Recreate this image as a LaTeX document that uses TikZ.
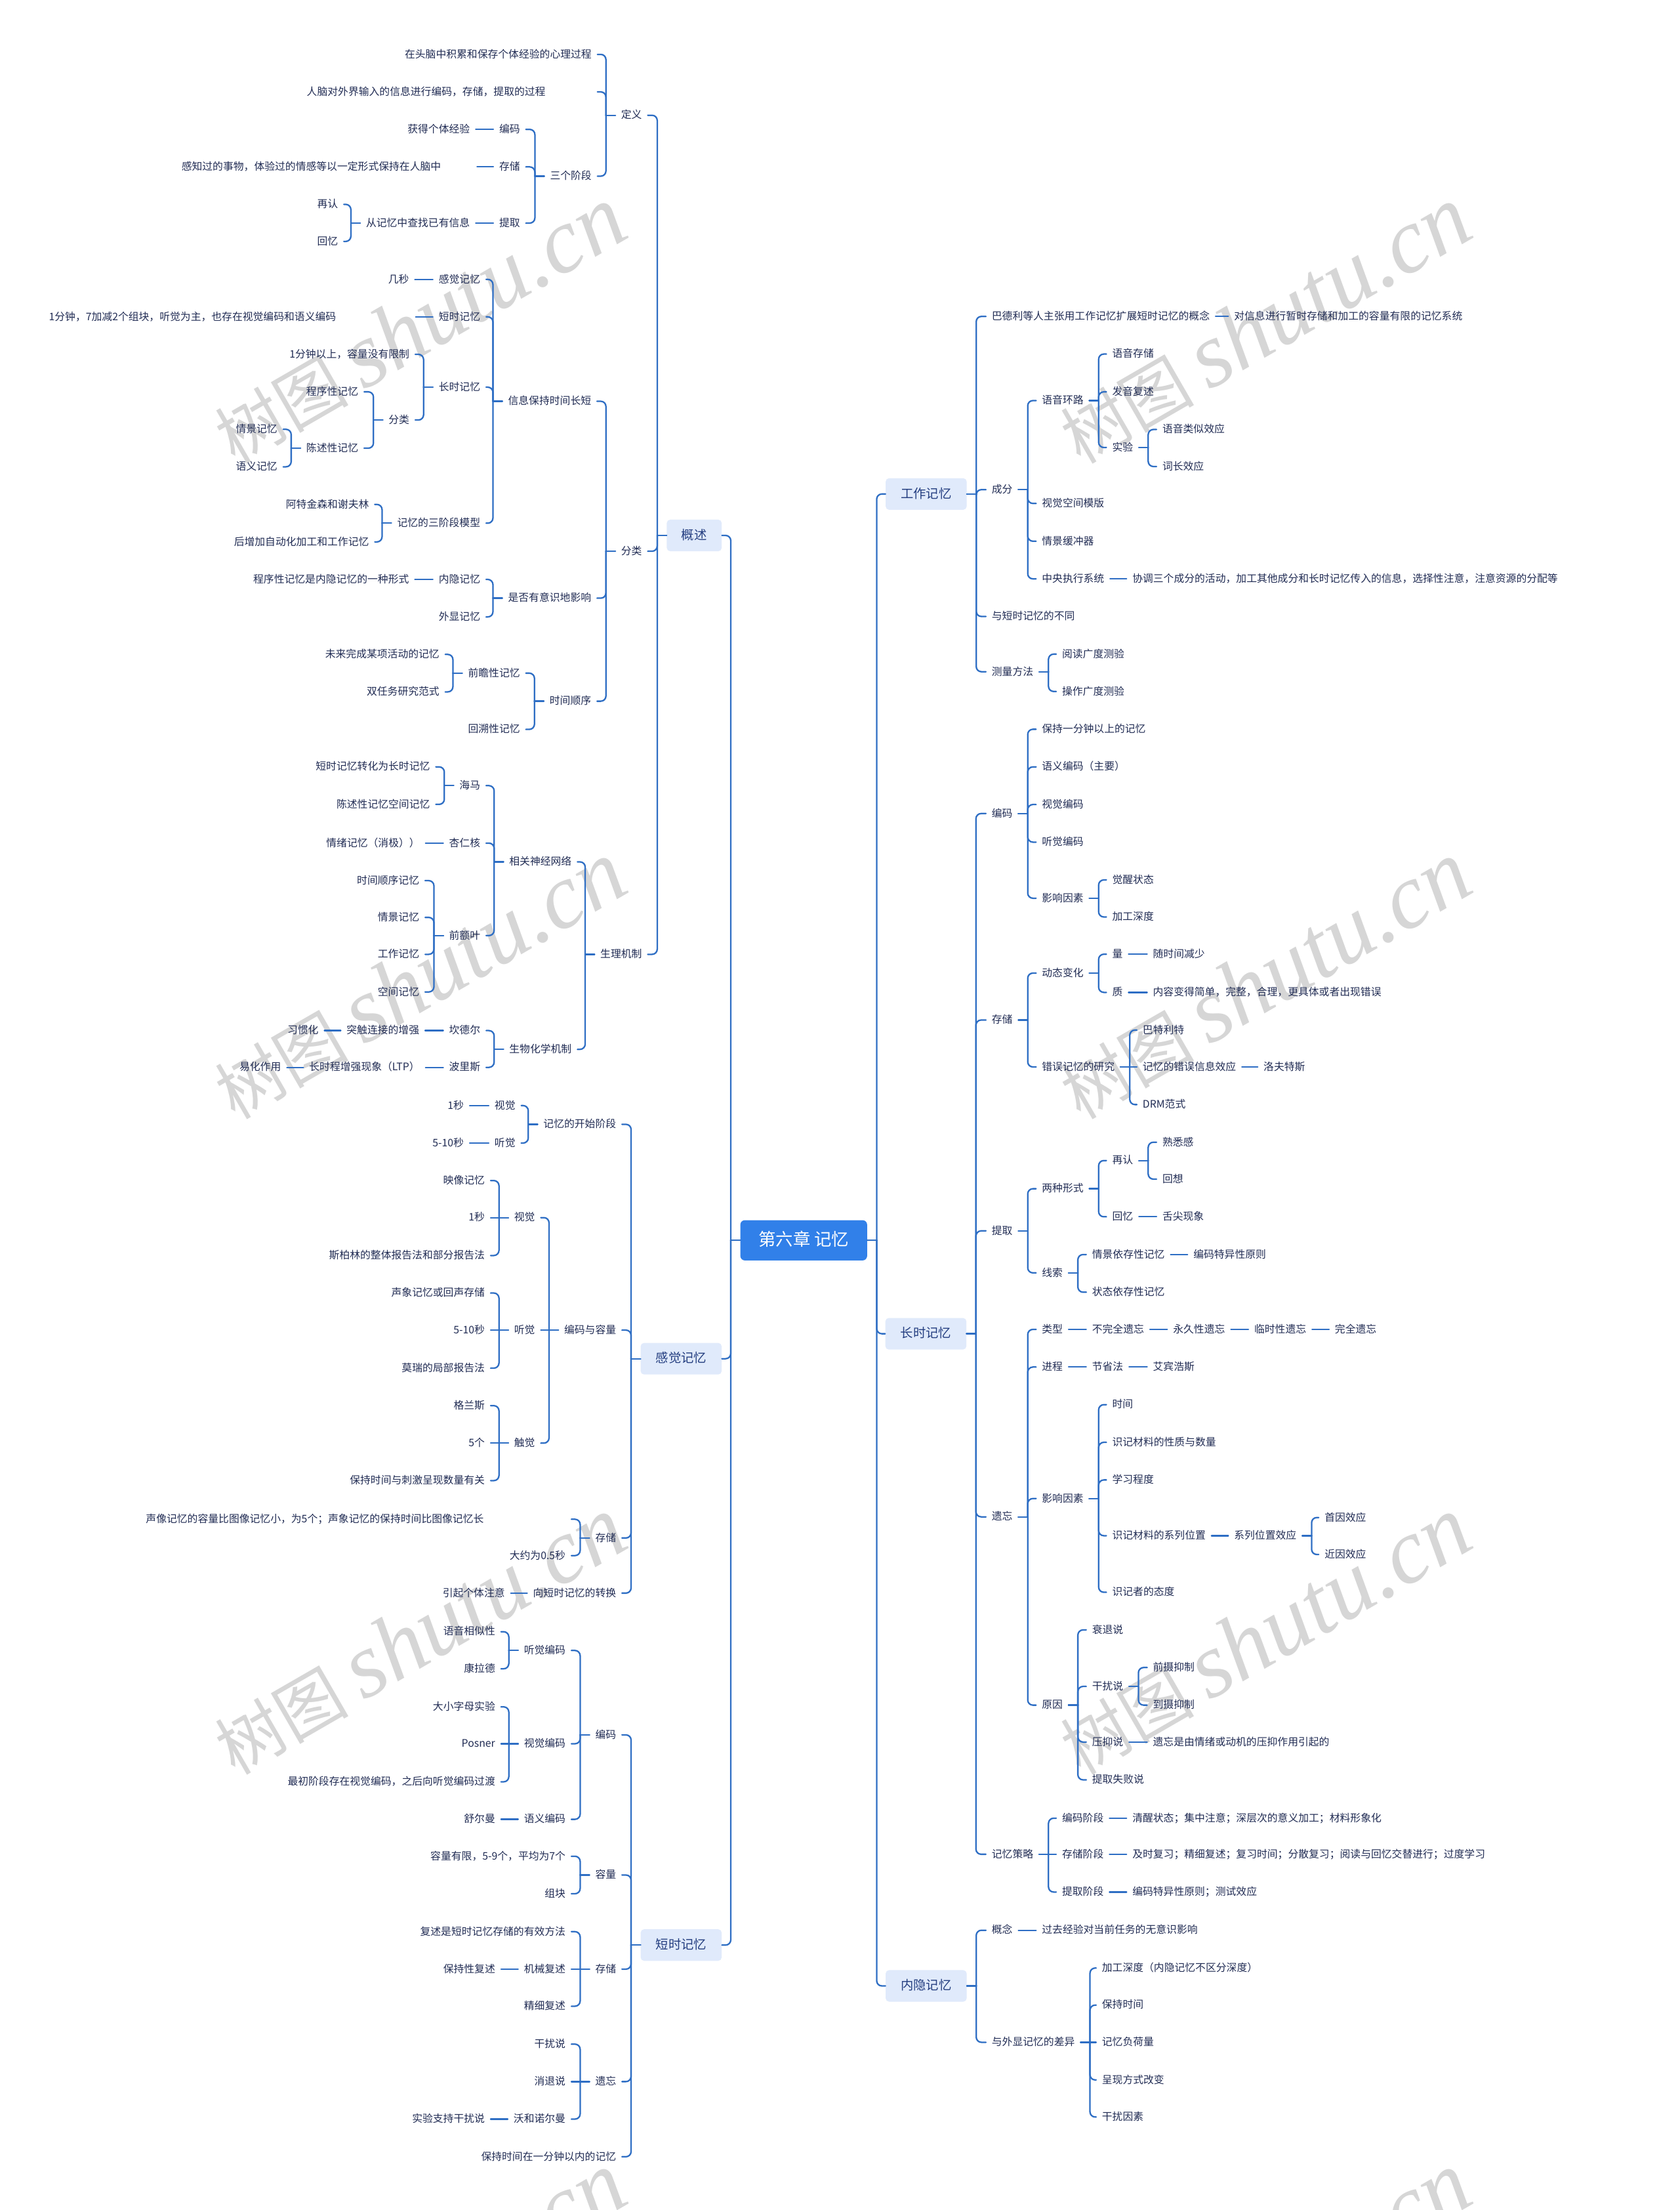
\documentclass[tikz,border=0pt]{standalone}
\usepackage{fontspec}
\setmainfont{Noto Sans CJK SC}
\newfontfamily\wmlat{Liberation Serif}
\usetikzlibrary{calc}
\definecolor{linec}{RGB}{46,110,196}
\definecolor{txtc}{RGB}{33,44,84}
\definecolor{topicfill}{RGB}{224,234,251}
\definecolor{topictxt}{RGB}{36,62,128}
\definecolor{rootfill}{RGB}{49,128,233}
\definecolor{wmc}{RGB}{214,214,214}
\begin{document}
\begin{tikzpicture}[x=0.04295cm, y=-0.04295cm, line join=round, line cap=round,
    every node/.style={text=txtc, font=\fontsize{9}{11}\selectfont, inner xsep=1.72mm, inner ysep=1pt, text height=7.5pt, text depth=1.5pt},
    lt/.style={anchor=east}, rt/.style={anchor=west},
    longtxt/.style={anchor=east, text width=#1, align=left},
    topic/.style={fill=topicfill, text=topictxt, rounded corners=3pt, minimum width=2.47cm, minimum height=0.962cm, inner xsep=0pt, inner ysep=0pt, font=\fontsize{11}{13}\selectfont, text height=9pt, text depth=2pt},
    rootbox/.style={fill=rootfill, text=white, rounded corners=4pt, minimum width=3.866cm, minimum height=1.228cm, inner xsep=0pt, inner ysep=0pt, font=\fontsize{15}{18}\selectfont, text height=12pt, text depth=3pt},
    link/.style={draw=linec, line width=1.3pt},
    wm/.style={text=wmc, rotate=30, inner sep=0pt, text height=50pt, text depth=12pt}]
\useasboundingbox[fill=white] (0,0) rectangle (1192,1568);
% 水印
\foreach \wx/\wy [count=\i] in {300/235,300/700,300/1165,300/1630,900/235,900/700,900/1165,900/1630}
  \node[wm] (wm\i) at (\wx,\wy) {\fontsize{58}{60}\selectfont 树图 {\wmlat\itshape\fontsize{80}{80}\selectfont shutu.cn}};

% 根与一级主题
\node[rootbox] (root) at (570.4,880) {第六章 记忆};
\node[topic, minimum width=1.675cm] (gaishu) at (492.7,379.9) {概述};
\node[topic] (ganjue) at (483.4,964) {感觉记忆};
\node[topic] (duanshi) at (483.4,1380) {短时记忆};
\node[topic] (gongzuo) at (657.3,350.5) {工作记忆};
\node[topic] (changshi) at (657.1,946.3) {长时记忆};
\node[topic] (neiyin) at (657.3,1409) {内隐记忆};

% 概述
\node[lt] (gdy) at (459.7,81.8) {定义};
\node[lt] (gfl) at (459.7,391.1) {分类};
\node[lt] (gsl) at (459.7,677.1) {生理机制};
\node[lt] (gdy1) at (424,38.6) {在头脑中积累和保存个体经验的心理过程};
\node[longtxt=8.68cm] (gdy2) at (424,65.2) {人脑对外界输入的信息进行编码，存储，提取的过程};
\node[lt] (gjd) at (424,125) {三个阶段};
\node[lt] (gbm) at (373.2,91.8) {编码};
\node[lt] (gcc) at (373.2,118.4) {存储};
\node[lt] (gtq) at (373.2,158.3) {提取};
\node[lt] (gbm1) at (337.6,91.8) {获得个体经验};
\node[longtxt=8.83cm] (gcc1) at (338.6,118.4) {感知过的事物，体验过的情感等以一定形式保持在人脑中};
\node[lt] (gtq1) at (337.6,158.3) {从记忆中查找已有信息};
\node[lt] (gzr) at (244,145) {再认};
\node[lt] (ghy) at (244,171.3) {回忆};
\node[lt] (gsj) at (423.7,284.7) {信息保持时间长短};
\node[lt] (gys) at (423.7,424.4) {是否有意识地影响};
\node[lt] (gsx) at (423.7,497.5) {时间顺序};
\node[lt] (ggj) at (345,198.2) {感觉记忆};
\node[lt] (ggj1) at (294.4,198.2) {几秒};
\node[lt] (gdj) at (345,224.8) {短时记忆};
\node[longtxt=11cm] (gdj1) at (295,224.8) {1分钟，7加减2个组块，听觉为主，也存在视觉编码和语义编码};
\node[lt] (gcj) at (345,274.7) {长时记忆};
\node[lt] (gcj1) at (294.7,251.4) {1分钟以上，容量没有限制};
\node[lt] (gcf) at (294.7,298) {分类};
\node[lt] (gcx) at (258.4,278) {程序性记忆};
\node[lt] (gcs) at (258.4,318) {陈述性记忆};
\node[lt] (gqj) at (201,304.6) {情景记忆};
\node[lt] (gyy) at (201,331.2) {语义记忆};
\node[lt] (gsm) at (345,371.2) {记忆的三阶段模型};
\node[lt] (gsm1) at (266,357.9) {阿特金森和谢夫林};
\node[lt] (gsm2) at (266,384.5) {后增加自动化加工和工作记忆};
\node[lt] (gny) at (345,411.1) {内隐记忆};
\node[lt] (gny1) at (294.4,411.1) {程序性记忆是内隐记忆的一种形式};
\node[lt] (gwx) at (345,437.7) {外显记忆};
\node[lt] (gqz) at (373.2,477.6) {前瞻性记忆};
\node[lt] (gqz1) at (316,464.3) {未来完成某项活动的记忆};
\node[lt] (gqz2) at (316,490.9) {双任务研究范式};
\node[lt] (ghs) at (373.2,517.5) {回溯性记忆};
\node[lt] (gxg) at (409.8,611.5) {相关神经网络};
\node[lt] (gsw) at (409.8,744.5) {生物化学机制};
\node[lt] (ghm) at (345,557.4) {海马};
\node[lt] (ghm1) at (309.3,544.1) {短时记忆转化为长时记忆};
\node[lt] (ghm2) at (309.3,570.7) {陈述性记忆空间记忆};
\node[lt] (gxr) at (345,598.2) {杏仁核};
\node[lt] (gxr1) at (302,598.2) {情绪记忆（消极））};
\node[lt] (gqe) at (345,663.8) {前额叶};
\node[lt] (gqe1) at (301.7,624.8) {时间顺序记忆};
\node[lt] (gqe2) at (301.7,650.9) {情景记忆};
\node[lt] (gqe3) at (301.7,677.1) {工作记忆};
\node[lt] (gqe4) at (301.7,703.8) {空间记忆};
\node[lt] (gkd) at (345,731.2) {坎德尔};
\node[lt] (gkd1) at (301.7,731.2) {突触连接的增强};
\node[lt] (gkd2) at (230.2,731.2) {习惯化};
\node[lt] (gbl) at (345,757.3) {波里斯};
\node[lt] (gbl1) at (302,757.3) {长时程增强现象（LTP）};
\node[lt] (gbl2) at (203.6,757.3) {易化作用};

% 感觉记忆
\node[lt] (sks) at (441.4,797.7) {记忆的开始阶段};
\node[lt] (sbr) at (441.4,943.7) {编码与容量};
\node[lt] (scc) at (441.4,1091.2) {存储};
\node[lt] (szh) at (441.4,1130.3) {向短时记忆的转换};
\node[lt] (sksv) at (369.9,784.4) {视觉};
\node[lt] (sksv1) at (333.3,784.4) {1秒};
\node[lt] (sksa) at (369.9,811) {听觉};
\node[lt] (sksa1) at (333.3,811) {5-10秒};
\node[lt] (sbv) at (383.8,863.9) {视觉};
\node[lt] (sbv1) at (348.2,837.6) {映像记忆};
\node[lt] (sbv2) at (348.2,863.9) {1秒};
\node[lt] (sbv3) at (348.2,890.8) {斯柏林的整体报告法和部分报告法};
\node[lt] (sba) at (383.8,943.7) {听觉};
\node[lt] (sba1) at (348.2,917.4) {声象记忆或回声存储};
\node[lt] (sba2) at (348.2,943.7) {5-10秒};
\node[lt] (sba3) at (348.2,970.7) {莫瑞的局部报告法};
\node[lt] (sbt) at (383.8,1023.9) {触觉};
\node[lt] (sbt1) at (348.2,997.3) {格兰斯};
\node[lt] (sbt2) at (348.2,1023.9) {5个};
\node[lt] (sbt3) at (348.2,1050.5) {保持时间与刺激呈现数量有关};
\node[longtxt=12.79cm] (scc1) at (405.5,1077.9) {声像记忆的容量比图像记忆小，为5个；声象记忆的保持时间比图像记忆长};
\node[lt] (scc2) at (405.5,1103.7) {大约为0.5秒};
\node[lt] (szh1) at (362.5,1130.3) {引起个体注意};

% 短时记忆
\node[lt] (dbm) at (441.4,1230.9) {编码};
\node[lt] (drl) at (441.4,1330.3) {容量};
\node[lt] (dcc) at (441.4,1397.1) {存储};
\node[lt] (dyw) at (441.4,1476.9) {遗忘};
\node[lt] (dbc) at (441.4,1530.2) {保持时间在一分钟以内的记忆};
\node[lt] (dtj) at (405.5,1171) {听觉编码};
\node[lt] (dtj1) at (355.6,1157.7) {语音相似性};
\node[lt] (dtj2) at (355.6,1184) {康拉德};
\node[lt] (dsj) at (405.5,1237.2) {视觉编码};
\node[lt] (dsj1) at (355.6,1211) {大小字母实验};
\node[lt] (dsj2) at (355.6,1237.2) {Posner};
\node[lt] (dsj3) at (355.6,1264.2) {最初阶段存在视觉编码，之后向听觉编码过渡};
\node[lt] (dyy) at (405.5,1290.8) {语义编码};
\node[lt] (dyy1) at (355.6,1290.8) {舒尔曼};
\node[lt] (drl1) at (405.5,1317) {容量有限，5-9个，平均为7个};
\node[lt] (drl2) at (405.5,1343.6) {组块};
\node[lt] (dcc1) at (405.5,1370.5) {复述是短时记忆存储的有效方法};
\node[lt] (dcc2) at (405.5,1397.1) {机械复述};
\node[lt] (dcc21) at (355.6,1397.1) {保持性复述};
\node[lt] (dcc3) at (405.5,1423.4) {精细复述};
\node[lt] (dyw1) at (405.5,1450.3) {干扰说};
\node[lt] (dyw2) at (405.5,1476.9) {消退说};
\node[lt] (dyw3) at (405.5,1503.5) {沃和诺尔曼};
\node[lt] (dyw31) at (348.2,1503.5) {实验支持干扰说};

% 工作记忆
\node[rt] (wbd) at (699.7,224.5) {巴德利等人主张用工作记忆扩展短时记忆的概念};
\node[rt] (wbd1) at (871.7,224.5) {对信息进行暂时存储和加工的容量有限的记忆系统};
\node[rt] (wcf) at (699.7,347.4) {成分};
\node[rt] (wbt) at (699.7,437.4) {与短时记忆的不同};
\node[rt] (wcl) at (699.7,476.6) {测量方法};
\node[rt] (wyh) at (735.3,284.2) {语音环路};
\node[rt] (wyh1) at (785.2,251.2) {语音存储};
\node[rt] (wyh2) at (785.2,278) {发音复述};
\node[rt] (wsy) at (785.2,317.5) {实验};
\node[rt] (wsy1) at (820.8,304.7) {语音类似效应};
\node[rt] (wsy2) at (820.8,331) {词长效应};
\node[rt] (wsk) at (735.3,357.2) {视觉空间模版};
\node[rt] (wqj) at (735.3,384) {情景缓冲器};
\node[rt] (wzy) at (735.3,410.7) {中央执行系统};
\node[rt] (wzy1) at (799.5,410.7) {协调三个成分的活动，加工其他成分和长时记忆传入的信息，选择性注意，注意资源的分配等};
\node[rt] (wcl1) at (749.6,464.1) {阅读广度测验};
\node[rt] (wcl2) at (749.6,490.6) {操作广度测验};

% 长时记忆
\node[rt] (cbm) at (699.7,577.2) {编码};
\node[rt] (ccc) at (699.7,723.7) {存储};
\node[rt] (ctq) at (699.7,873.3) {提取};
\node[rt] (cyw) at (699.7,1076.2) {遗忘};
\node[rt] (ccl) at (699.7,1315.6) {记忆策略};
\node[rt] (cbm1) at (735.3,517.4) {保持一分钟以上的记忆};
\node[rt] (cbm2) at (735.3,544.1) {语义编码（主要）};
\node[rt] (cbm3) at (735.3,570.8) {视觉编码};
\node[rt] (cbm4) at (735.3,597.5) {听觉编码};
\node[rt] (cbm5) at (735.3,637.3) {影响因素};
\node[rt] (cbm51) at (785.2,624.3) {觉醒状态};
\node[rt] (cbm52) at (785.2,650.6) {加工深度};
\node[rt] (cdt) at (735.3,690.4) {动态变化};
\node[rt] (cdt1) at (785.2,677) {量};
\node[rt] (cdt11) at (814.1,677) {随时间减少};
\node[rt] (cdt2) at (785.2,704.1) {质};
\node[rt] (cdt21) at (814.1,704.1) {内容变得简单，完整，合理，更具体或者出现错误};
\node[rt] (ccw) at (735.3,757) {错误记忆的研究};
\node[rt] (ccw1) at (806.8,730.8) {巴特利特};
\node[rt] (ccw2) at (806.8,757) {记忆的错误信息效应};
\node[rt] (ccw21) at (892.6,757) {洛夫特斯};
\node[rt] (ccw3) at (806.8,783.7) {DRM范式};
\node[rt] (clz) at (735.3,843.4) {两种形式};
\node[rt] (czr) at (785.2,823.4) {再认};
\node[rt] (czr1) at (820.8,810.4) {熟悉感};
\node[rt] (czr2) at (820.8,836.6) {回想};
\node[rt] (chy) at (785.2,863.3) {回忆};
\node[rt] (chy1) at (820.8,863.3) {舌尖现象};
\node[rt] (cxs) at (735.3,903.1) {线索};
\node[rt] (cxs1) at (770.9,890.1) {情景依存性记忆};
\node[rt] (cxs11) at (842.8,890.1) {编码特异性原则};
\node[rt] (cxs2) at (770.9,916.8) {状态依存性记忆};
\node[rt] (clx) at (735.3,943.2) {类型};
\node[rt] (clx1) at (770.9,943.2) {不完全遗忘};
\node[rt] (clx2) at (828.4,943.2) {永久性遗忘};
\node[rt] (clx3) at (886,943.2) {临时性遗忘};
\node[rt] (clx4) at (943.2,943.2) {完全遗忘};
\node[rt] (cjc) at (735.3,969.9) {进程};
\node[rt] (cjc1) at (770.9,969.9) {节省法};
\node[rt] (cjc2) at (814.1,969.9) {艾宾浩斯};
\node[rt] (cyx) at (735.3,1063.2) {影响因素};
\node[rt] (cyx1) at (785.2,996.6) {时间};
\node[rt] (cyx2) at (785.2,1023.3) {识记材料的性质与数量};
\node[rt] (cyx3) at (785.2,1050) {学习程度};
\node[rt] (cyx4) at (785.2,1089.6) {识记材料的系列位置};
\node[rt] (cyx41) at (871.7,1089.6) {系列位置效应};
\node[rt] (cyx411) at (935.9,1076.7) {首因效应};
\node[rt] (cyx412) at (935.9,1102.9) {近因效应};
\node[rt] (cyx5) at (785.2,1129.7) {识记者的态度};
\node[rt] (cyy) at (735.3,1209.8) {原因};
\node[rt] (cyy1) at (770.9,1156.4) {衰退说};
\node[rt] (cyy2) at (770.9,1196.5) {干扰说};
\node[rt] (cyy21) at (814.1,1183.1) {前摄抑制};
\node[rt] (cyy22) at (814.1,1209.8) {到摄抑制};
\node[rt] (cyy3) at (770.9,1236) {压抑说};
\node[rt] (cyy31) at (814.1,1236) {遗忘是由情绪或动机的压抑作用引起的};
\node[rt] (cyy4) at (770.9,1262.8) {提取失败说};
\node[rt] (ccl1) at (749.6,1290) {编码阶段};
\node[rt] (ccl11) at (799.5,1290) {清醒状态；集中注意；深层次的意义加工；材料形象化};
\node[rt] (ccl2) at (749.6,1315.6) {存储阶段};
\node[rt] (ccl21) at (799.5,1315.6) {及时复习；精细复述；复习时间；分散复习；阅读与回忆交替进行；过度学习};
\node[rt] (ccl3) at (749.6,1342.4) {提取阶段};
\node[rt] (ccl31) at (799.5,1342.4) {编码特异性原则；测试效应};

% 内隐记忆
\node[rt] (ngn) at (699.7,1369.5) {概念};
\node[rt] (ngn1) at (735.3,1369.5) {过去经验对当前任务的无意识影响};
\node[rt] (ncy) at (699.7,1449) {与外显记忆的差异};
\node[rt] (ncy1) at (777.9,1396.3) {加工深度（内隐记忆不区分深度）};
\node[rt] (ncy2) at (777.9,1422.6) {保持时间};
\node[rt] (ncy3) at (777.9,1449) {记忆负荷量};
\node[rt] (ncy4) at (777.9,1475.7) {呈现方式改变};
\node[rt] (ncy5) at (777.9,1502) {干扰因素};

% 左侧分支
\foreach \p/\c in {root/gaishu,root/ganjue,root/duanshi,
    gaishu/gdy,gaishu/gfl,gaishu/gsl,gdy/gdy1,gdy/gdy2,gdy/gjd,gjd/gbm,gjd/gcc,gjd/gtq,gtq1/gzr,gtq1/ghy,
    gfl/gsj,gfl/gys,gfl/gsx,gsj/ggj,gsj/gdj,gsj/gcj,gsj/gsm,gcj/gcj1,gcj/gcf,gcf/gcx,gcf/gcs,gcs/gqj,gcs/gyy,
    gsm/gsm1,gsm/gsm2,gys/gny,gys/gwx,gsx/gqz,gsx/ghs,gqz/gqz1,gqz/gqz2,
    gsl/gxg,gsl/gsw,gxg/ghm,gxg/gxr,gxg/gqe,ghm/ghm1,ghm/ghm2,gqe/gqe1,gqe/gqe2,gqe/gqe3,gqe/gqe4,gsw/gkd,gsw/gbl,
    ganjue/sks,ganjue/sbr,ganjue/scc,ganjue/szh,sks/sksv,sks/sksa,sbr/sbv,sbr/sbt,
    sbv/sbv1,sbv/sbv3,sba/sba1,sba/sba3,sbt/sbt1,sbt/sbt3,scc/scc1,scc/scc2,
    duanshi/dbm,duanshi/drl,duanshi/dcc,duanshi/dyw,duanshi/dbc,dbm/dtj,dbm/dsj,dbm/dyy,
    dtj/dtj1,dtj/dtj2,dsj/dsj1,dsj/dsj3,drl/drl1,drl/drl2,dcc/dcc1,dcc/dcc3,dyw/dyw1,dyw/dyw3}{
  \draw[link] (\p.west) -- ++(-6.6,0);
  \draw[link, rounded corners=4.5pt] ($(\p.west)+(-6.6,0)$) |- (\c.east);
}
% 左侧直连
\foreach \p/\c in {gbm/gbm1,gcc/gcc1,gtq/gtq1,ggj/ggj1,gdj/gdj1,gny/gny1,gxr/gxr1,gkd/gkd1,gkd1/gkd2,gbl/gbl1,gbl1/gbl2,
    sksv/sksv1,sksa/sksa1,sbr/sba,sbv/sbv2,sba/sba2,sbt/sbt2,szh/szh1,dsj/dsj2,dyy/dyy1,dcc/dcc2,dcc2/dcc21,dyw/dyw2,dyw3/dyw31}
  \draw[link] (\p.west) -- (\c.east);

% 右侧分支
\foreach \p/\c in {root/gongzuo,root/changshi,root/neiyin,
    gongzuo/wbd,gongzuo/wcf,gongzuo/wbt,gongzuo/wcl,wcf/wyh,wcf/wsk,wcf/wqj,wcf/wzy,
    wyh/wyh1,wyh/wyh2,wyh/wsy,wsy/wsy1,wsy/wsy2,wcl/wcl1,wcl/wcl2,
    changshi/cbm,changshi/ccc,changshi/ctq,changshi/cyw,changshi/ccl,
    cbm/cbm1,cbm/cbm2,cbm/cbm3,cbm/cbm4,cbm/cbm5,cbm5/cbm51,cbm5/cbm52,
    ccc/cdt,ccc/ccw,cdt/cdt1,cdt/cdt2,ccw/ccw1,ccw/ccw3,
    ctq/clz,ctq/cxs,clz/czr,clz/chy,czr/czr1,czr/czr2,cxs/cxs1,cxs/cxs2,
    cyw/clx,cyw/cjc,cyw/cyx,cyw/cyy,cyx/cyx1,cyx/cyx2,cyx/cyx3,cyx/cyx4,cyx/cyx5,cyx41/cyx411,cyx41/cyx412,
    cyy/cyy1,cyy/cyy2,cyy/cyy3,cyy/cyy4,cyy2/cyy21,cyy2/cyy22,ccl/ccl1,ccl/ccl3,
    neiyin/ngn,neiyin/ncy,ncy/ncy1,ncy/ncy2,ncy/ncy4,ncy/ncy5}{
  \draw[link] (\p.east) -- ++(6.6,0);
  \draw[link, rounded corners=4.5pt] ($(\p.east)+(6.6,0)$) |- (\c.west);
}
% 右侧直连
\foreach \p/\c in {wbd/wbd1,wzy/wzy1,cdt1/cdt11,cdt2/cdt21,ccw/ccw2,ccw2/ccw21,chy/chy1,cxs1/cxs11,
    clx/clx1,clx1/clx2,clx2/clx3,clx3/clx4,cjc/cjc1,cjc1/cjc2,cyx4/cyx41,cyy3/cyy31,
    ccl/ccl2,ccl1/ccl11,ccl2/ccl21,ccl3/ccl31,ngn/ngn1,ncy/ncy3}
  \draw[link] (\p.east) -- (\c.west);
\end{tikzpicture}
\end{document}
